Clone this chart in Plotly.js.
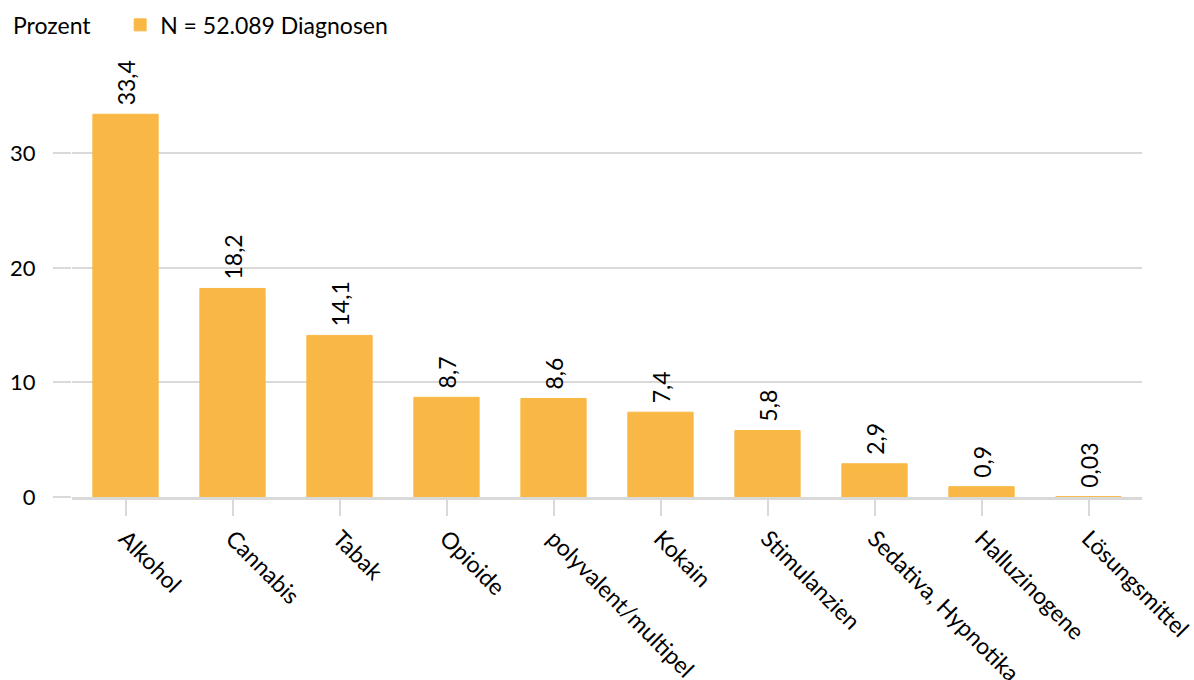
<!DOCTYPE html>
<html>
<head>
<meta charset="utf-8">
<script src="https://cdn.plot.ly/plotly-3.0.1.min.js"></script>
<style>html,body{margin:0;padding:0;background:#fff;}#chart{width:1194px;height:680px;}</style>
</head>
<body>
<div id="chart"></div>
<script>
const categories = ["Alkohol","Cannabis","Tabak","Opioide","polyvalent/multipel","Kokain","Stimulanzien","Sedativa, Hypnotika","Halluzinogene","Lösungsmittel"];
const values = [33.4,18.2,14.1,8.7,8.6,7.4,5.8,2.9,0.9,0.03];
const seriesName = "N = 52.089 Diagnosen";
const yTicks = [0,10,20,30];
const yUnit = "Prozent";

const FONT = "Lato, 'Open Sans', sans-serif";
const BAR = "#F9B845";
const trace = {
  type: "bar",
  x: categories,
  y: values,
  name: seriesName,
  marker: {color: BAR, line: {color: BAR, width: 1}},
  text: values.map(v => "\u00A0" + String(v).replace(".", ",")),
  textposition: "outside",
  textangle: -90,
  constraintext: "none",
  cliponaxis: false,
  textfont: {family: FONT, size: 23, color: "#000"},
  outsidetextfont: {family: FONT, size: 23, color: "#000"},
  hoverinfo: "none"
};
const layout = {
  width: 1194, height: 680,
  margin: {l: 72, r: 52, t: 73, b: 183},
  paper_bgcolor: "#fff", plot_bgcolor: "#fff",
  font: {family: FONT, size: 23, color: "#000"},
  bargap: 0.39,
  showlegend: true,
  legend: {orientation: "h", x: 0.045, xanchor: "left", y: 0.995, yanchor: "top", yref: "container",
           font: {family: FONT, size: 23, color: "#000"}, bgcolor: "rgba(0,0,0,0)"},
  xaxis: {
    type: "category", tickangle: 45, ticks: "outside", ticklen: 16, tickwidth: 2, tickcolor: "#d9d9d9",
    showline: true, linecolor: "#d9d9d9", linewidth: 3, showgrid: false, automargin: false,
    tickfont: {family: FONT, size: 23, color: "#000"}, fixedrange: true
  },
  yaxis: {
    range: [0, 37], tickvals: yTicks, ticktext: yTicks.map(String),
    showgrid: true, gridcolor: "#d9d9d9", gridwidth: 2, zeroline: false, showline: false,
    ticks: "outside", ticklen: 18, tickwidth: 2, tickcolor: "#d9d9d9",
    ticklabelstandoff: 13, automargin: false,
    tickfont: {family: FONT, size: 22, color: "#000"}, fixedrange: true
  },
  annotations: [{
    text: yUnit, xref: "paper", yref: "paper", x: 0, y: 1.113, xshift: -61,
    xanchor: "left", yanchor: "middle", showarrow: false, font: {family: FONT, size: 23, color: "#000"}
  }]
};
Plotly.newPlot("chart", [trace], layout, {displayModeBar: false, staticPlot: true});
</script>
</body>
</html>
